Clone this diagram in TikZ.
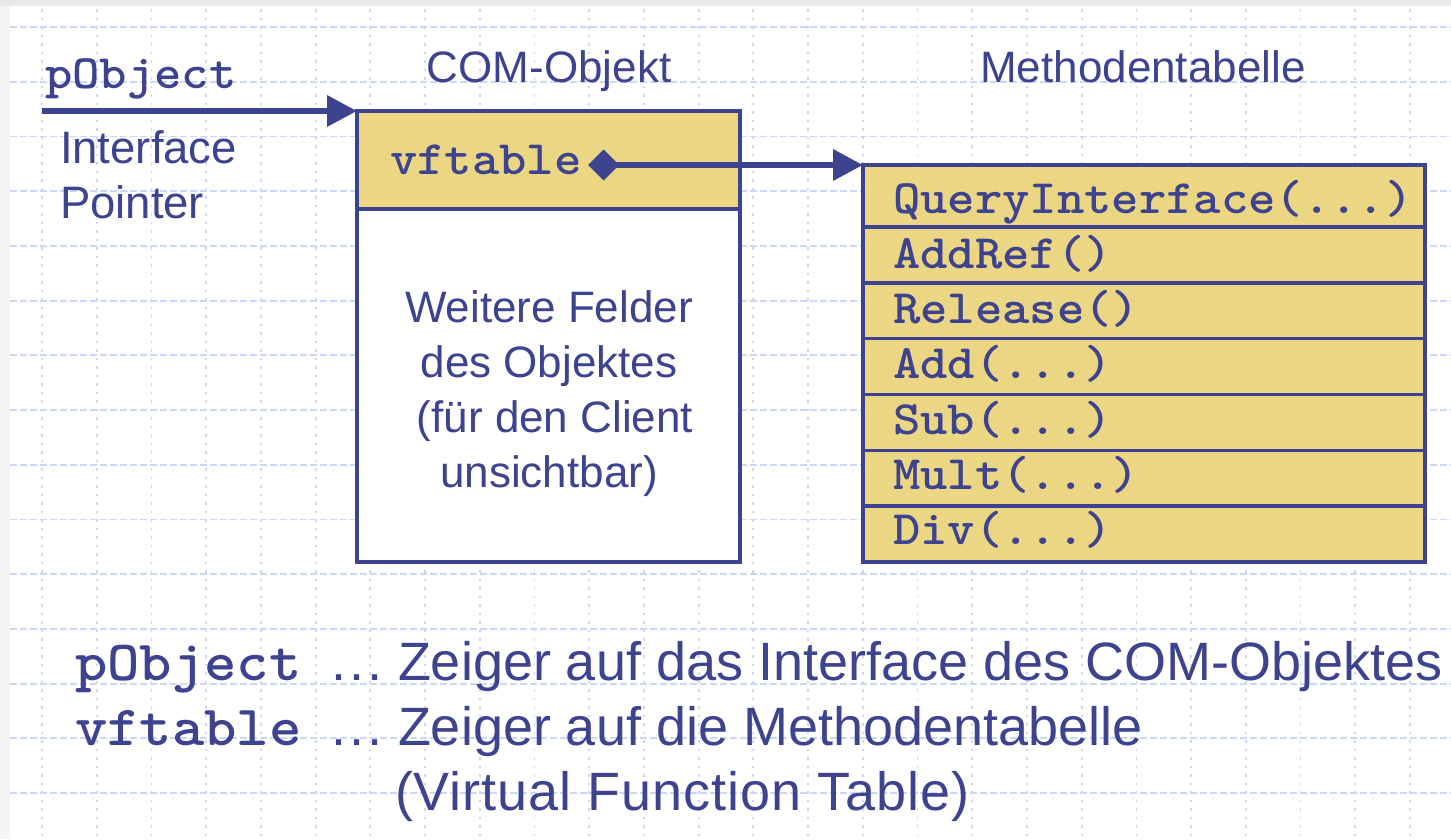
\documentclass[tikz,border=0pt]{standalone}
\usepackage{fontspec}
\setmainfont{Liberation Sans}
\newfontfamily\codefont{lmmonolt10-bold.otf}[FakeStretch=1.085]
\usetikzlibrary{arrows.meta}
\definecolor{ink}{HTML}{3D438F}
\definecolor{gold}{HTML}{EBD683}
\definecolor{gridblue}{HTML}{CDD6F7}
\definecolor{topband}{HTML}{E9E9E9}
\definecolor{sideband}{HTML}{F4F4F4}

\begin{document}
\begin{tikzpicture}[x=1pt,y=-1pt,
  lbl/.style={inner sep=0pt, outer sep=0pt, text=ink, font=\fontsize{44}{55}\selectfont},
  code/.style={inner sep=0pt, outer sep=0pt, text=ink, font=\codefont\fontsize{48}{55}\selectfont},
  biglbl/.style={inner sep=0pt, outer sep=0pt, text=ink, font=\fontsize{54}{64}\selectfont},
  bigcode/.style={inner sep=0pt, outer sep=0pt, text=ink, font=\codefont\fontsize{56.8}{64}\selectfont},
  box/.style={draw=ink, line width=3.5pt, anchor=north west, inner sep=0pt, outer sep=0pt},
  cell/.style={box, fill=gold, minimum width=562pt},
  gridv/.style={draw=gridblue, line width=1.8pt, dash pattern=on 2.5pt off 6pt},
  gridh/.style={draw=gridblue, line width=1.8pt, dash pattern=on 7pt off 3pt},
  ptr/.style={draw=ink, line width=6.5pt, -{Triangle[length=30pt,width=30pt]}},
]
\useasboundingbox (0,0) rectangle (1451,839);

% page background with the grey frame at top and left
\fill[white] (0,0) rectangle (1451,839);
\fill[sideband] (0,0) rectangle (10,839);
\fill[topband] (0,0) rectangle (1451,6);

% dashed background grid
\foreach \i in {0,...,25}
  \draw[gridv] ({42+54.72*\i},9) -- ({42+54.72*\i},839);
\foreach \j in {0,...,14}
  \draw[gridh] (10,{27+54.72*\j}) -- (1451,{27+54.72*\j});

% COM object: vftable field and hidden fields
\node[box, fill=gold, minimum width=383pt, minimum height=98pt] (comhead) at (357,111) {};
\node[box, fill=white, minimum width=383pt, minimum height=353pt] (combody) at (357,209) {};

% method table rows
\node[cell, minimum height=62pt] (r1) at (863,165) {};
\foreach \k/\y in {2/227,3/282.83,4/338.67,5/394.5,6/450.33,7/506.17}
  \node[cell, minimum height=55.83pt] (r\k) at (863,\y) {};

% titles
\node[lbl, anchor=base] (comtitle) at (549,82) {COM-Objekt};
\node[lbl, anchor=base] (mttitle) at (1143,82) {Methodentabelle};

% interface pointer
\node[code, anchor=base west] (pobj) at (45,88) {pObject};
\node[lbl, font=\fontsize{45.5}{55}\selectfont, anchor=base west] (ip1) at (60,163) {Interface};
\node[lbl, font=\fontsize{45.5}{55}\selectfont, anchor=base west] (ip2) at (60,218) {Pointer};
\coordinate (pstart) at (42,111);
\draw[ptr] (pstart) -- (comhead.north west);

% vftable pointer
\node[code, anchor=base west] (vft) at (390,174) {vftable};
\coordinate (vfptr) at (588,165);
\draw[ptr, {Diamond[length=31pt,width=31pt]}-{Triangle[length=30pt,width=30pt]}] (vfptr) -- (r1.north west);

% hidden fields text
\node[lbl, anchor=base] (w1) at (549,322) {Weitere Felder};
\node[lbl, anchor=base] (w2) at (549,377) {des Objektes};
\node[lbl, anchor=base] (w3) at (555,432) {(für den Client};
\node[lbl, anchor=base] (w4) at (549,487) {unsichtbar)};

% method names
\node[code, anchor=base west] (m1) at (893,213) {QueryInterface(...)};
\node[code, anchor=base west] (m2) at (893,268) {AddRef()};
\node[code, anchor=base west] (m3) at (893,323) {Release()};
\node[code, anchor=base west] (m4) at (893,378) {Add(...)};
\node[code, anchor=base west] (m5) at (893,434) {Sub(...)};
\node[code, anchor=base west] (m6) at (893,489) {Mult(...)};
\node[code, anchor=base west] (m7) at (893,544) {Div(...)};

% legend
\node[bigcode, anchor=base west] (k1) at (75,680) {pObject};
\node[biglbl, anchor=base west] (d1) at (331,680) {.\hspace{3.5pt}.\hspace{3.5pt}.};
\node[biglbl, anchor=base west] (t1) at (398,680) {Zeiger auf das Interface des COM-Objektes};
\node[bigcode, anchor=base west] (k2) at (75,745) {vftable};
\node[biglbl, anchor=base west] (d2) at (331,745) {.\hspace{3.5pt}.\hspace{3.5pt}.};
\node[biglbl, anchor=base west] (t2) at (398,745) {Zeiger auf die Methodentabelle};
\node[biglbl, anchor=base west] (t3) at (395,810) {\addfontfeature{LetterSpace=1.8}(Virtual Function Table)};
\end{tikzpicture}
\end{document}
